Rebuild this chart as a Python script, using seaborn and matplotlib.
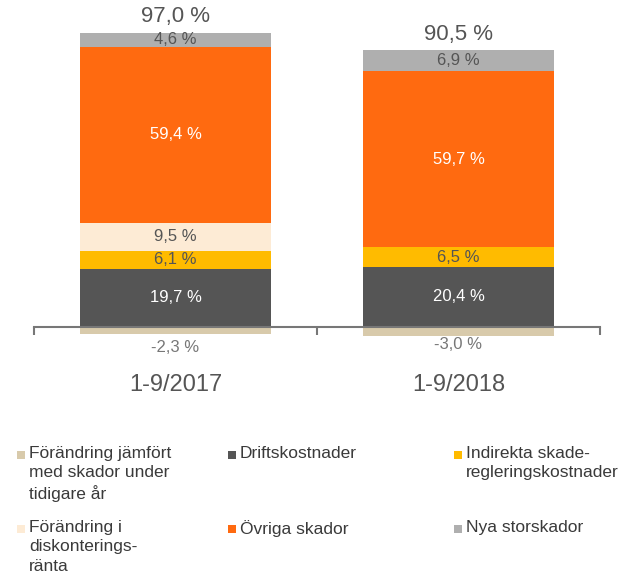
import matplotlib
matplotlib.use("Agg")
import matplotlib.pyplot as plt
from matplotlib.patches import Rectangle
import seaborn as sns
import numpy as np

# data (combined ratio components, %)
periods = ["1-9/2017", "1-9/2018"]
drift = [19.7, 20.4]
indirekta = [6.1, 6.5]
diskontering = [9.5, 0.0]
ovriga = [59.4, 59.7]
nya = [4.6, 6.9]
tidigare = [-2.3, -3.0]
totals = ["97,0 %", "90,5 %"]

layers = [drift, indirekta, diskontering, ovriga, nya]
colors = ["#555555", "#FFBB00", "#FDEBD5", "#FF6A10", "#AFAFAF"]
txt_colors = ["white", "#555555", "#555555", "white", "#555555"]
neg_color = "#D8CAAB"

sns.set_style("white")
plt.rcParams["font.family"] = ["Liberation Sans", "DejaVu Sans"]

fig = plt.figure(figsize=(6.19, 5.77), dpi=100)
ax = fig.add_axes([0.0549, 0.4024, 0.9144, 0.5643])

# stacked bars: draw cumulative heights from top layer down
cum = np.cumsum(np.array(layers), axis=0)
for i in range(len(layers) - 1, -1, -1):
    sns.barplot(x=periods, y=cum[i], color=colors[i], saturation=1,
                width=0.675, ax=ax, linewidth=0)
sns.barplot(x=periods, y=tidigare, color=neg_color, saturation=1,
            width=0.675, ax=ax, linewidth=0)

def fmt(v):
    return f"{v:.1f}".replace(".", ",") + " %"

for j in range(len(periods)):
    base = 0.0
    for i, layer in enumerate(layers):
        v = layer[j]
        if v > 0:
            ax.text(j, base + v / 2, fmt(v), ha="center", va="center",
                    color=txt_colors[i], fontsize=12)
        base += v
    ax.text(j, base + 5.5, totals[j], ha="center", va="center",
            color="#555555", fontsize=16)
    ax.text(j, tidigare[j] - 4.5 + j * 1.5, fmt(tidigare[j]), ha="center",
            va="center", color="#777777", fontsize=12)
    ax.text(j, -19.5, periods[j], ha="center", va="center",
            color="#555555", fontsize=17)

ax.set_ylim(-6, 104)
ax.set_xlim(-0.5, 1.5)
for s in ["top", "right", "left"]:
    ax.spines[s].set_visible(False)
ax.spines["bottom"].set_position(("data", 0))
ax.spines["bottom"].set_color("#777777")
ax.spines["bottom"].set_linewidth(1.5)
ax.set_xticks([-0.5, 0.5, 1.5])
ax.set_xticklabels([])
ax.tick_params(axis="x", direction="out", length=6, width=1.5,
               color="#777777", bottom=True)
ax.set_yticks([])
ax.set_xlabel("")
ax.set_ylabel("")

# legend (manual grid, 3 columns x 2 rows)
leg_labels = [
    "Förändring jämfört\nmed skador under\ntidigare år", "Driftskostnader",
    "Indirekta skade-\nregleringskostnader",
    "Förändring i\ndiskonterings-\nränta", "Övriga skador", "Nya storskador",
]
leg_colors = [neg_color, "#555555", "#FFBB00", "#FDEBD5", "#FF6A10", "#AFAFAF"]
col_x = [17, 228, 454]
row_y = [451, 525]
W, H = 619, 577
for k, (lab, c) in enumerate(zip(leg_labels, leg_colors)):
    r, cidx = divmod(k, 3)
    x0, y0 = col_x[cidx], row_y[r]
    fig.add_artist(Rectangle((x0 / W, 1 - (y0 + 8) / H), 8 / W, 8 / H,
                             transform=fig.transFigure, color=c, lw=0))
    fig.text((x0 + 12) / W, 1 - (y0 - 5) / H, lab, ha="left", va="top",
             fontsize=12.5, color="#3a3a3a", linespacing=1.36)

fig.savefig("out.png", dpi=100)
